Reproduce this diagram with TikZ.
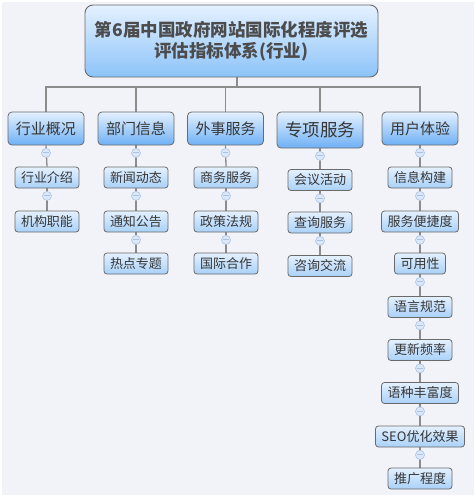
\documentclass[tikz,border=0pt]{standalone}
\usepackage{fontspec}
\setmainfont{Noto Sans CJK SC}
\usepackage{tikz}
\usetikzlibrary{calc}
\pgfdeclarelayer{bg}
\pgfsetlayers{bg,main}

\definecolor{pagebg}{HTML}{F2F3F8}
\definecolor{ink}{HTML}{363636}
\definecolor{rootink}{HTML}{4C4C4C}
\definecolor{rim}{HTML}{6A6A6A}
\definecolor{wire}{HTML}{8C8C8C}
\definecolor{paletop}{HTML}{E4F1FF}
\definecolor{deepblue}{HTML}{6EB0F5}
\definecolor{leafblue}{HTML}{A9D1F8}
\definecolor{rootblue}{HTML}{8CC3F9}
\definecolor{knob}{HTML}{DCE8F8}
\definecolor{knobrim}{HTML}{A9C3E6}

\tikzset{
  root/.style={draw=rim, line width=0.9pt, rounded corners=8pt, top color=paletop,
    bottom color=rootblue, text=rootink, align=center, minimum width=293pt,
    minimum height=72pt, font=\fontsize{17.5}{21}\selectfont\bfseries},
  topic/.style={draw=rim, line width=0.8pt, rounded corners=4pt, top color=paletop,
    bottom color=deepblue, text=ink, inner xsep=8pt, inner ysep=0pt,
    minimum height=33pt, font=\fontsize{15}{15}\selectfont},
  bigtopic/.style={topic, minimum height=36pt, font=\fontsize{17.5}{17.5}\selectfont},
  leaf/.style={draw=rim, line width=0.8pt, rounded corners=3pt, top color=paletop,
    bottom color=leafblue, text=ink, inner xsep=6pt, inner ysep=0pt,
    minimum height=21pt, font=\fontsize{13}{13}\selectfont},
  link/.style={draw=wire, line width=1.3pt},
  minus/.style={circle, draw=knobrim, fill=knob, line width=0.6pt, minimum size=9pt,
    inner sep=0pt, path picture={\draw[knobrim, line width=0.9pt]
      ([xshift=-2.6pt]path picture bounding box.center) --
      ([xshift=2.6pt]path picture bounding box.center);}}
}

% parent, child
\newcommand{\linkdown}[2]{%
  \begin{pgfonlayer}{bg}
    \draw[link] (#1.south) -- (#2.north);
  \end{pgfonlayer}
  \node[minus] (m#2) at ($(#1.south)+(0,7.5)$) {};
}

\begin{document}
\begin{tikzpicture}[x=1pt, y=-1pt]
  \useasboundingbox (0,0) rectangle (476,499);
  \begin{pgfonlayer}{bg}    % page first, wires on top of it
    \fill[white] (0,0) rectangle (476,499);
    \fill[pagebg] (2,2) rectangle (474,495);
  \end{pgfonlayer}

  \node [root] (root) at (231.5,41) {第6届中国政府网站国际化程度评选\\评估指标体系(行业)};
  \coordinate (hub) at (237,87);

  % main topics
  \node [topic] (t1) at (46,128.5) {行业概况};
  \node [topic] (t2) at (136,128.5) {部门信息};
  \node [topic] (t3) at (225.5,128.5) {外事服务};
  \node [bigtopic] (t4) at (320,130) {专项服务};
  \node [topic] (t5) at (420,128.5) {用户体验};

  \begin{pgfonlayer}{bg}
    \draw[link] (root.south -| hub) -- (hub);
    \foreach \t in {t1,t2,t3,t4,t5}
      \draw[link] (hub) -| (\t.north);
  \end{pgfonlayer}

  % subtopics
  \node [leaf] (a1) at (47,177.5) {行业介绍};
  \node [leaf] (a2) at (47,221.5) {机构职能};

  \node [leaf] (b1) at (136,177.5) {新闻动态};
  \node [leaf] (b2) at (136,221.5) {通知公告};
  \node [leaf] (b3) at (136,263.5) {热点专题};

  \node [leaf] (c1) at (226,177.5) {商务服务};
  \node [leaf] (c2) at (226,221.5) {政策法规};
  \node [leaf] (c3) at (226,263.5) {国际合作};

  \node [leaf] (d1) at (320,180) {会议活动};
  \node [leaf] (d2) at (320,222.5) {查询服务};
  \node [leaf] (d3) at (320,266) {咨询交流};

  \node [leaf] (e1) at (420,177.5) {信息构建};
  \node [leaf] (e2) at (420,221.5) {服务便捷度};
  \node [leaf] (e3) at (420,263.5) {可用性};
  \node [leaf] (e4) at (420,307) {语言规范};
  \node [leaf] (e5) at (420,350) {更新频率};
  \node [leaf] (e6) at (420,393) {语种丰富度};
  \node [leaf] (e7) at (420,436.5) {SEO优化效果};
  \node [leaf] (e8) at (420,478.5) {推广程度};

  \linkdown{t1}{a1} \linkdown{a1}{a2}
  \linkdown{t2}{b1} \linkdown{b1}{b2} \linkdown{b2}{b3}
  \linkdown{t3}{c1} \linkdown{c1}{c2} \linkdown{c2}{c3}
  \linkdown{t4}{d1} \linkdown{d1}{d2} \linkdown{d2}{d3}
  \linkdown{t5}{e1} \linkdown{e1}{e2} \linkdown{e2}{e3} \linkdown{e3}{e4}
  \linkdown{e4}{e5} \linkdown{e5}{e6} \linkdown{e6}{e7} \linkdown{e7}{e8}
\end{tikzpicture}
\end{document}
